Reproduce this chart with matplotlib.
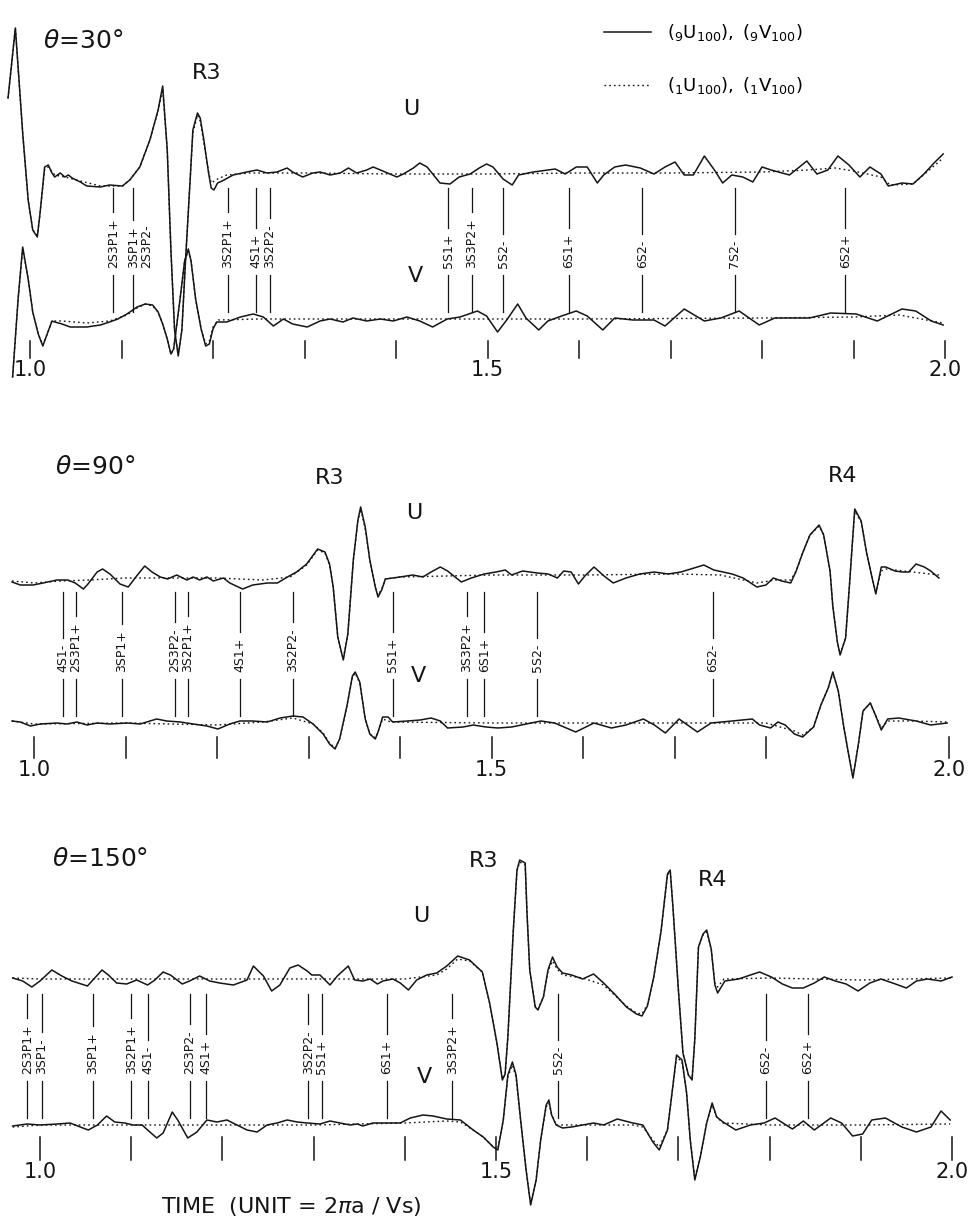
import numpy as np
import matplotlib.pyplot as plt
from matplotlib.lines import Line2D

# ---- theta = 30 deg : (time, amplitude) samples ----
u30_9 = [(0.976, 75), (0.984, 145), (0.992, 40), (0.998, -27), (1.003, -57), (1.008, -64),
         (1.011, -40), (1.016, 6), (1.020, 8), (1.024, 0), (1.027, -4), (1.033, 0), (1.038, -4),
         (1.042, -2), (1.046, -5), (1.055, -9), (1.062, -13), (1.077, -14), (1.087, -12),
         (1.101, -13), (1.109, -7), (1.120, 6), (1.131, 33), (1.140, 63), (1.145, 87),
         (1.150, 23), (1.154, -77), (1.158, -157), (1.162, -183), (1.166, -157), (1.170, -87),
         (1.175, -7), (1.178, 43), (1.183, 60), (1.186, 55), (1.190, 33), (1.195, 1),
         (1.198, -15), (1.201, -17), (1.205, -10), (1.210, -8), (1.222, -2), (1.237, 1),
         (1.248, 3), (1.259, 0), (1.270, 1), (1.281, 5), (1.287, 1), (1.298, -4), (1.309, 0),
         (1.317, 1), (1.328, -2), (1.339, 0), (1.348, 5), (1.357, 0), (1.368, 3), (1.375, 6),
         (1.383, 3), (1.401, -4), (1.408, -1), (1.419, 5), (1.426, 10), (1.434, 6),
         (1.448, -10), (1.459, -11), (1.469, -4), (1.481, -1), (1.491, 5), (1.499, 9),
         (1.506, 6), (1.517, -6), (1.527, -12), (1.534, -2), (1.550, 1), (1.574, 4),
         (1.585, -1), (1.597, 6), (1.609, 6), (1.620, -10), (1.627, -2), (1.639, 6),
         (1.651, 8), (1.667, 5), (1.682, -1), (1.694, 6), (1.705, 11), (1.715, -2),
         (1.725, -2), (1.737, 17), (1.748, 3), (1.757, -10), (1.767, -2), (1.779, -4),
         (1.790, -9), (1.800, 6), (1.810, 3), (1.830, -2), (1.849, 12), (1.860, -1),
         (1.872, 3), (1.883, 17), (1.895, 8), (1.907, -4), (1.918, 6), (1.930, -1),
         (1.938, -13), (1.953, -10), (1.965, -11), (1.977, -1), (1.988, 10), (1.998, 19)]
u30_1 = [(0.976, 75), (0.984, 145), (0.992, 40), (0.998, -27), (1.003, -57), (1.008, -62),
         (1.011, -40), (1.016, 4), (1.020, 6), (1.027, -2), (1.038, -4), (1.055, -8),
         (1.077, -13), (1.101, -13), (1.109, -7), (1.120, 6), (1.131, 33), (1.140, 62),
         (1.145, 84), (1.150, 23), (1.154, -77), (1.158, -157), (1.162, -181), (1.166, -157),
         (1.170, -87), (1.175, -7), (1.178, 40), (1.183, 58), (1.186, 52), (1.190, 30),
         (1.195, 2), (1.198, -10), (1.205, -6), (1.215, -2), (1.240, 0), (1.300, 0),
         (1.400, -1), (1.500, -1), (1.600, 0), (1.700, 0), (1.800, 1), (1.850, 3),
         (1.880, 5), (1.900, 2), (1.930, -4), (1.940, -12), (1.965, -11), (1.998, 15)]
v30_9 = [(0.981, -58), (0.987, 20), (0.992, 72), (0.998, 40), (1.003, 7), (1.009, -15),
         (1.014, -27), (1.020, -12), (1.024, -2), (1.027, -3), (1.035, -5), (1.044, -8),
         (1.062, -8), (1.077, -6), (1.087, -3), (1.096, 0), (1.106, 5), (1.117, 12),
         (1.126, 15), (1.134, 14), (1.140, 7), (1.145, -5), (1.150, -20), (1.154, -35),
         (1.157, -30), (1.164, 20), (1.169, 58), (1.173, 70), (1.176, 58), (1.181, 20),
         (1.187, -10), (1.192, -27), (1.196, -25), (1.200, -10), (1.204, -3), (1.215, -3),
         (1.230, 2), (1.244, 5), (1.255, 2), (1.266, -7), (1.277, 0), (1.287, -5),
         (1.303, -8), (1.317, -2), (1.328, 0), (1.342, -3), (1.353, 1), (1.368, -2),
         (1.383, 0), (1.397, -2), (1.412, 2), (1.426, -2), (1.440, -8), (1.456, 0),
         (1.470, 2), (1.489, 8), (1.499, 3), (1.511, -13), (1.521, -1), (1.533, 15),
         (1.542, 1), (1.556, -11), (1.566, -2), (1.581, 3), (1.597, 8), (1.609, 3),
         (1.626, -11), (1.639, 1), (1.659, -1), (1.682, -1), (1.694, -7), (1.715, 10),
         (1.737, -2), (1.755, 1), (1.775, 8), (1.797, -6), (1.814, 1), (1.833, 1),
         (1.852, 1), (1.875, 6), (1.903, 5), (1.926, -2), (1.953, 10), (1.968, 8),
         (1.985, -2), (1.998, -6)]
v30_1 = [(0.981, -58), (0.987, 20), (0.992, 70), (0.998, 40), (1.003, 7), (1.009, -15),
         (1.014, -26), (1.020, -12), (1.024, -2), (1.035, -2), (1.062, -4), (1.087, -2),
         (1.106, 4), (1.117, 11), (1.126, 15), (1.134, 13), (1.140, 7), (1.145, -5),
         (1.150, -20), (1.154, -35), (1.157, -30), (1.164, 20), (1.169, 58), (1.173, 68),
         (1.176, 58), (1.181, 20), (1.187, -10), (1.192, -25), (1.196, -22), (1.200, -8),
         (1.206, -1), (1.250, 0), (1.400, 0), (1.600, 0), (1.800, 1), (1.900, 2),
         (1.950, 4), (1.998, -4)]

# ---- theta = 90 deg ----
u90_9 = [(0.976, -5), (0.985, -8), (0.999, -8), (1.010, -6), (1.025, -3), (1.037, -3),
         (1.045, -6), (1.054, -12), (1.059, -7), (1.069, 5), (1.075, 8), (1.083, 3),
         (1.094, -7), (1.103, -10), (1.113, 2), (1.121, 11), (1.129, 5), (1.138, 0),
         (1.146, -2), (1.156, 2), (1.167, -3), (1.174, 0), (1.181, -3), (1.189, 0),
         (1.196, -4), (1.207, -1), (1.214, -6), (1.228, -12), (1.239, -8), (1.255, -6),
         (1.266, -6), (1.277, 0), (1.287, 5), (1.298, 13), (1.310, 28), (1.318, 25),
         (1.323, 13), (1.327, -10), (1.332, -60), (1.338, -83), (1.343, -57), (1.349, 17),
         (1.354, 57), (1.357, 70), (1.362, 50), (1.367, 17), (1.373, -10), (1.376, -20),
         (1.380, -13), (1.384, -2), (1.400, 0), (1.414, 2), (1.425, 0), (1.434, 5),
         (1.444, 10), (1.452, 6), (1.467, -5), (1.478, -1), (1.492, 3), (1.505, 5),
         (1.515, 7), (1.522, 2), (1.534, 6), (1.550, 4), (1.562, 3), (1.572, -1),
         (1.579, 6), (1.587, 5), (1.595, -7), (1.602, 1), (1.612, 10), (1.623, 1),
         (1.633, -6), (1.647, -1), (1.662, 3), (1.678, 5), (1.693, 3), (1.707, 5),
         (1.725, 10), (1.732, 12), (1.743, 7), (1.763, 3), (1.775, -1), (1.790, -10),
         (1.800, -8), (1.808, -1), (1.817, -4), (1.827, -6), (1.833, 6), (1.840, 24),
         (1.848, 42), (1.858, 52), (1.863, 42), (1.870, 6), (1.873, -29), (1.878, -65),
         (1.881, -78), (1.887, -61), (1.891, -11), (1.895, 42), (1.897, 68), (1.904, 56),
         (1.910, 24), (1.916, -1), (1.920, -17), (1.926, 10), (1.931, 10), (1.941, 6),
         (1.949, 5), (1.956, 5), (1.964, 13), (1.973, 10), (1.980, 6), (1.989, -1)]
u90_1 = [(0.976, -4), (1.000, -6), (1.030, -4), (1.060, -3), (1.100, -1), (1.150, -1),
         (1.200, -1), (1.250, -3), (1.280, 0), (1.298, 12), (1.310, 27), (1.318, 24),
         (1.323, 12), (1.327, -10), (1.332, -60), (1.338, -82), (1.343, -57), (1.349, 17),
         (1.354, 56), (1.357, 68), (1.362, 48), (1.367, 17), (1.373, -10), (1.376, -18),
         (1.380, -12), (1.384, -2), (1.400, 0), (1.500, 2), (1.600, 2), (1.700, 3),
         (1.750, 2), (1.790, -6), (1.810, -3), (1.827, -3), (1.833, 6), (1.840, 24),
         (1.848, 42), (1.858, 51), (1.863, 42), (1.870, 6), (1.873, -29), (1.878, -65),
         (1.881, -77), (1.887, -61), (1.891, -11), (1.895, 42), (1.897, 66), (1.904, 55),
         (1.910, 24), (1.916, -1), (1.920, -15), (1.926, 6), (1.931, 8), (1.960, 5),
         (1.989, 2)]
v90_9 = [(0.976, 2), (0.985, 1), (0.996, -3), (1.007, -1), (1.025, 0), (1.036, -1),
         (1.047, 1), (1.058, -2), (1.069, 0), (1.083, -1), (1.102, 0), (1.116, -1),
         (1.134, 4), (1.145, 2), (1.160, 1), (1.174, -1), (1.189, -3), (1.201, -6),
         (1.214, -1), (1.225, 2), (1.239, 2), (1.255, 1), (1.269, 5), (1.283, 7),
         (1.294, 6), (1.305, -1), (1.316, -11), (1.323, -21), (1.329, -26), (1.334, -16),
         (1.342, 17), (1.348, 47), (1.351, 51), (1.356, 41), (1.362, 4), (1.367, -11),
         (1.373, -16), (1.376, -9), (1.381, 6), (1.387, 6), (1.392, 1), (1.408, 2),
         (1.422, 3), (1.434, 5), (1.444, 2), (1.452, -5), (1.469, -4), (1.480, -2),
         (1.494, -4), (1.507, -5), (1.522, -4), (1.538, -1), (1.554, 2), (1.569, 0),
         (1.592, -9), (1.612, 0), (1.631, -5), (1.647, -2), (1.666, 4), (1.678, -2),
         (1.690, -10), (1.705, 4), (1.725, -9), (1.740, 0), (1.763, 2), (1.785, 4),
         (1.793, -2), (1.805, -5), (1.813, 1), (1.821, -2), (1.831, -11), (1.840, -14),
         (1.852, -4), (1.860, 18), (1.868, 35), (1.873, 51), (1.879, 32), (1.885, -4),
         (1.891, -35), (1.895, -55), (1.901, -21), (1.906, 12), (1.914, 20), (1.920, 7),
         (1.926, -7), (1.933, 4), (1.945, 5), (1.964, 2), (1.980, -2), (1.998, 0)]
v90_1 = [(0.976, 2), (1.000, -1), (1.100, 0), (1.200, -2), (1.250, 1), (1.283, 5),
         (1.305, -1), (1.316, -10), (1.323, -20), (1.329, -25), (1.334, -16), (1.342, 17),
         (1.348, 46), (1.351, 50), (1.356, 40), (1.362, 4), (1.367, -11), (1.373, -15),
         (1.376, -9), (1.381, 4), (1.390, 1), (1.500, 0), (1.600, 0), (1.700, 0),
         (1.800, 0), (1.831, -8), (1.840, -12), (1.852, -4), (1.860, 18), (1.868, 35),
         (1.873, 50), (1.879, 32), (1.885, -4), (1.891, -35), (1.895, -54), (1.901, -21),
         (1.906, 12), (1.914, 20), (1.920, 7), (1.926, -5), (1.933, 2), (1.960, 2),
         (1.998, 1)]

# ---- theta = 150 deg ----
u150_9 = [(0.970, 1), (0.981, -2), (0.991, -8), (1.000, -2), (1.013, 9), (1.024, 3),
          (1.035, -2), (1.052, -7), (1.063, 4), (1.068, 9), (1.075, 4), (1.084, -4),
          (1.095, -5), (1.106, -1), (1.118, -6), (1.126, -1), (1.135, 7), (1.143, 4),
          (1.156, -5), (1.164, -2), (1.175, 3), (1.186, -2), (1.197, -4), (1.212, -6),
          (1.227, -1), (1.234, 13), (1.245, 3), (1.254, -12), (1.263, -6), (1.274, 11),
          (1.283, 14), (1.293, 8), (1.298, 4), (1.307, 4), (1.318, -6), (1.326, 3),
          (1.338, 13), (1.345, -1), (1.354, -2), (1.362, 0), (1.370, -5), (1.376, -2),
          (1.387, 0), (1.395, -4), (1.404, -11), (1.413, -1), (1.424, 4), (1.435, 6),
          (1.446, 13), (1.458, 23), (1.471, 19), (1.485, 7), (1.493, -24), (1.501, -64),
          (1.507, -101), (1.510, -95), (1.513, -58), (1.519, 49), (1.523, 109), (1.526, 119),
          (1.532, 116), (1.534, 66), (1.537, 9), (1.543, -28), (1.546, -31), (1.552, -18),
          (1.557, 9), (1.562, 22), (1.567, 12), (1.573, 6), (1.583, 4), (1.595, 0),
          (1.607, 5), (1.618, -4), (1.631, -16), (1.643, -28), (1.654, -35), (1.660, -37),
          (1.666, -27), (1.673, 2), (1.681, 48), (1.688, 105), (1.691, 109), (1.694, 72),
          (1.700, -11), (1.705, -74), (1.711, -96), (1.715, -101), (1.718, -60), (1.722, 32),
          (1.727, 45), (1.731, 49), (1.736, 30), (1.740, -6), (1.743, -14), (1.751, -2),
          (1.766, 0), (1.779, 4), (1.789, 7), (1.802, 2), (1.814, -5), (1.825, -9),
          (1.837, -9), (1.849, -4), (1.860, 2), (1.872, -2), (1.884, -5), (1.897, -12),
          (1.910, -4), (1.922, 0), (1.938, -5), (1.950, -9), (1.961, -2), (1.973, 0),
          (1.988, -2), (2.000, 2)]
u150_1 = [(0.970, 1), (1.000, 0), (1.100, 0), (1.200, 0), (1.300, 0), (1.400, 0),
          (1.435, 4), (1.446, 10), (1.458, 20), (1.471, 18), (1.485, 7), (1.493, -24),
          (1.501, -64), (1.507, -100), (1.510, -95), (1.513, -58), (1.519, 49), (1.523, 108),
          (1.526, 117), (1.532, 114), (1.534, 66), (1.537, 9), (1.543, -27), (1.546, -30),
          (1.552, -18), (1.557, 8), (1.562, 18), (1.567, 10), (1.573, 4), (1.595, 1),
          (1.618, -6), (1.643, -27), (1.654, -34), (1.660, -35), (1.666, -26), (1.673, 2),
          (1.681, 48), (1.688, 104), (1.691, 108), (1.694, 72), (1.700, -11), (1.705, -74),
          (1.711, -96), (1.715, -100), (1.718, -60), (1.722, 32), (1.727, 44), (1.731, 47),
          (1.736, 30), (1.740, -4), (1.743, -8), (1.750, 0), (1.800, 1), (1.900, -1),
          (2.000, 1)]
v150_9 = [(0.970, -1), (0.986, 1), (1.000, 0), (1.019, 1), (1.033, 2), (1.047, -3),
          (1.053, -5), (1.063, 0), (1.073, 9), (1.082, 3), (1.093, 2), (1.102, 0),
          (1.112, 0), (1.118, -5), (1.128, -13), (1.135, -8), (1.145, 13), (1.151, 5),
          (1.162, -13), (1.172, -7), (1.183, 5), (1.194, 3), (1.205, 5), (1.216, 0),
          (1.227, -5), (1.238, -7), (1.249, 0), (1.260, 2), (1.271, 5), (1.282, 3),
          (1.293, 2), (1.307, 1), (1.318, 4), (1.329, 2), (1.340, 0), (1.348, 1),
          (1.354, -1), (1.365, 2), (1.380, 2), (1.395, 2), (1.406, 7), (1.420, 10),
          (1.431, 9), (1.446, 6), (1.461, 5), (1.475, -5), (1.486, -12), (1.497, -22),
          (1.502, -25), (1.508, 5), (1.513, 50), (1.518, 63), (1.522, 50), (1.527, 5),
          (1.533, -45), (1.538, -80), (1.544, -55), (1.549, -15), (1.555, 20), (1.558, 25),
          (1.561, 10), (1.566, 0), (1.573, -3), (1.583, -2), (1.595, 0), (1.607, 2),
          (1.618, 0), (1.633, 6), (1.650, 2), (1.661, 0), (1.672, -17), (1.679, -25),
          (1.688, -5), (1.693, 32), (1.698, 70), (1.704, 65), (1.709, 32), (1.713, -15),
          (1.718, -55), (1.724, -32), (1.731, 2), (1.737, 22), (1.742, 8), (1.749, 3),
          (1.763, -5), (1.779, 0), (1.794, 2), (1.806, 7), (1.825, -4), (1.837, 4),
          (1.849, -5), (1.867, 7), (1.879, 2), (1.891, -11), (1.902, -9), (1.912, 5),
          (1.927, 7), (1.945, -2), (1.961, -7), (1.977, -2), (1.988, 14), (1.998, 5)]
v150_1 = [(0.970, -2), (1.000, 0), (1.100, 0), (1.200, 0), (1.300, 0), (1.400, 2),
          (1.446, 4), (1.461, 3), (1.475, -5), (1.486, -12), (1.497, -22), (1.502, -24),
          (1.508, 5), (1.513, 48), (1.518, 60), (1.522, 48), (1.527, 5), (1.533, -45),
          (1.538, -78), (1.544, -55), (1.549, -15), (1.555, 18), (1.558, 22), (1.561, 10),
          (1.566, 0), (1.600, 0), (1.650, 0), (1.661, -2), (1.672, -15), (1.679, -22),
          (1.688, -5), (1.693, 32), (1.698, 68), (1.704, 63), (1.709, 32), (1.713, -15),
          (1.718, -53), (1.724, -32), (1.731, 2), (1.737, 20), (1.742, 8), (1.749, 2),
          (1.800, 0), (1.900, 0), (1.998, 1)]

# ---- arrival labels: (time, name, draw marker line) ----
arr30 = [(1.091, '2S3P1+', True), (1.113, '3SP1+', True), (1.128, '2S3P2-', False),
         (1.216, '3S2P1+', True), (1.247, '4S1+', True), (1.262, '3S2P2-', True),
         (1.457, '5S1+', True), (1.483, '3S3P2+', True), (1.517, '5S2-', True),
         (1.589, '6S1+', True), (1.669, '6S2-', True), (1.770, '7S2-', True),
         (1.891, '6S2+', True)]
arr90 = [(1.032, '4S1-', True), (1.046, '2S3P1+', True), (1.096, '3SP1+', True),
         (1.154, '2S3P2-', True), (1.168, '3S2P1+', True), (1.225, '4S1+', True),
         (1.283, '3S2P2-', True), (1.392, '5S1+', True), (1.473, '3S3P2+', True),
         (1.492, '6S1+', True), (1.550, '5S2-', True), (1.742, '6S2-', True)]
arr150 = [(0.986, '2S3P1+', True), (1.002, '3SP1-', True), (1.058, '3SP1+', True),
          (1.100, '3S2P1+', True), (1.118, '4S1-', True), (1.164, '2S3P2-', True),
          (1.182, '4S1+', True), (1.294, '3S2P2-', True), (1.309, '5S1+', True),
          (1.380, '6S1+', True), (1.452, '3S3P2+', True), (1.568, '5S2-', True),
          (1.796, '6S2-', True), (1.842, '6S2+', True)]

tick_times = [1.0, 1.1, 1.2, 1.3, 1.4, 1.5, 1.6, 1.7, 1.8, 1.9, 2.0]
tick_labels = {1.0: '1.0', 1.5: '1.5', 2.0: '2.0'}

V_OFF = -146
INK = '#151515'

panels = [
    dict(rect=[0, 1 - 400 / 1219, 1, 400 / 1219], xlim=(0.96721, 2.03060), ylim=(-227, 173),
         u=(u30_9, u30_1), v=(v30_9, v30_1), arr=arr30, skip=[], tick=(-168, -185),
         title=(r'$\theta$=30°', 1.058, 132),
         marks=[('R3', 1.193, 100)], uv=((1.417, 64), (1.421, -103))),
    dict(rect=[0, 1 - 800 / 1219, 1, 400 / 1219], xlim=(0.96284, 2.02623), ylim=(-223, 177),
         u=(u90_9, u90_1), v=(v90_9, v90_1), arr=arr90, skip=[1.9], tick=(-160, -181),
         title=(r'$\theta$=90°', 1.067, 110),
         marks=[('R3', 1.323, 99), ('R4', 1.884, 101)], uv=((1.416, 64), (1.420, -99))),
    dict(rect=[0, 0, 1, 419 / 1219], xlim=(0.95614, 2.02303), ylim=(-240, 179),
         u=(u150_9, u150_1), v=(v150_9, v150_1), arr=arr150, skip=[], tick=(-158, -181),
         title=(r'$\theta$=150°', 1.066, 120),
         marks=[('R3', 1.486, 118), ('R4', 1.738, 99)], uv=((1.418, 63), (1.422, -98))),
]

fig = plt.figure(figsize=(9.73, 12.19), dpi=100)
pending = []
axes = []
for p in panels:
    ax = fig.add_axes(p['rect'])
    ax.set_xlim(*p['xlim'])
    ax.set_ylim(*p['ylim'])
    ax.axis('off')
    axes.append(ax)

    for (solid, dotted), off in ((p['u'], 0), (p['v'], V_OFF)):
        t1, a1 = np.array(dotted, dtype=float).T
        ax.plot(t1, a1 + off, color=INK, lw=1.0, ls=(0, (1.2, 2.2)), zorder=2)
        t9, a9 = np.array(solid, dtype=float).T
        ax.plot(t9, a9 + off, color=INK, lw=1.1, zorder=3)

    for t in tick_times:
        if t in p['skip']:
            continue
        ax.plot([t, t], list(p['tick']), color=INK, lw=1.1)
        if t in tick_labels:
            ax.text(t, p['tick'][1] - 12, tick_labels[t], ha='center', va='center',
                    fontsize=15, color=INK)

    txt, tx, ty = p['title']
    ax.text(tx, ty, txt, ha='center', va='center', fontsize=18, color=INK)
    for s, mx, my in p['marks']:
        ax.text(mx, my, s, ha='center', va='center', fontsize=16, color=INK)
    ax.text(*p['uv'][0], 'U', ha='center', va='center', fontsize=16, color=INK)
    ax.text(*p['uv'][1], 'V', ha='center', va='center', fontsize=16, color=INK)

    for t, name, line in p['arr']:
        tt = ax.text(t, -95, name, rotation=90, ha='center', va='bottom',
                     fontsize=9, color=INK)
        pending.append((ax, tt, t, line))

axes[2].text(1.276, -227, 'TIME  (UNIT = 2$\\pi$a / Vs)', ha='center', va='center',
             fontsize=16, color=INK)

handles = [Line2D([], [], color=INK, lw=1.1),
           Line2D([], [], color=INK, lw=1.0, ls=(0, (1.2, 2.2)))]
labels = [r'$({}_{9}\mathrm{U}_{100}),\ ({}_{9}\mathrm{V}_{100})$',
          r'$({}_{1}\mathrm{U}_{100}),\ ({}_{1}\mathrm{V}_{100})$']
fig.legend(handles, labels, loc='upper left', bbox_to_anchor=(588 / 973, 1 - 6 / 1219),
           frameon=False, fontsize=13, handlelength=2.6, handletextpad=0.9,
           labelspacing=1.75)

# marker lines above and below each arrival name, cut where the text sits
fig.canvas.draw()
renderer = fig.canvas.get_renderer()
for ax, tt, t, line in pending:
    if not line:
        continue
    bb = tt.get_window_extent(renderer).transformed(ax.transData.inverted())
    ax.plot([t, t], [-15, bb.y1 + 6], color=INK, lw=0.9)
    ax.plot([t, t], [bb.y0 - 7, -139], color=INK, lw=0.9)

fig.savefig('out.png', dpi=100)
